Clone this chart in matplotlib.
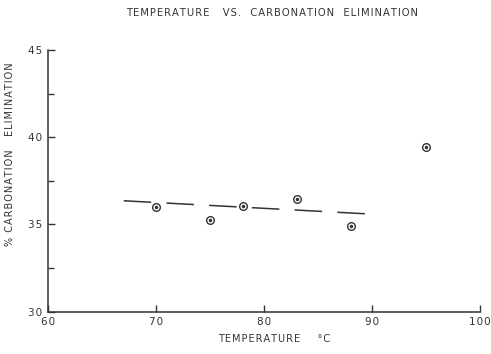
import matplotlib
matplotlib.use("Agg")
import matplotlib.pyplot as plt

temperature = [70, 75, 78, 83, 88, 95]
elimination = [36.0, 35.27, 36.06, 36.45, 34.88, 39.45]
trend_x = [67.0, 89.5]
trend_y = [36.35, 35.6]
x_ticks = [60, 70, 80, 90, 100]
y_ticks = [30, 35, 40, 45]
y_minor = [32.5, 37.5, 42.5]

title_text = "TEMPERATURE   VS.  CARBONATION  ELIMINATION"
xlabel_text = "TEMPERATURE    °C"
ylabel_text = "% CARBONATION   ELIMINATION"

ink = "#333333"
plt.rcParams['font.family'] = ['DejaVu Sans']


def spaced(s):
    return "\u200a".join(s)


fig = plt.figure(figsize=(4.91, 3.54), dpi=100)
ax = fig.add_axes([0.098, 0.12, 0.88, 0.739])

ax.plot(trend_x, trend_y, color=ink, lw=1.1, dashes=(18, 10))
ax.plot(temperature, elimination, linestyle='none', marker='o', ms=5.5,
        mfc='white', mec=ink, mew=1.0)
ax.plot(temperature, elimination, linestyle='none', marker='o', ms=1.5,
        mfc=ink, mec=ink)

ax.set_xlim(60, 100)
ax.set_ylim(30, 45)
ax.set_xticks(x_ticks)
ax.set_yticks(y_ticks)
ax.set_yticks(y_minor, minor=True)
ax.set_xticklabels([spaced(str(v)) for v in x_ticks])
ax.set_yticklabels([spaced(str(v)) for v in y_ticks])

for s in ['top', 'right']:
    ax.spines[s].set_visible(False)
for s in ['left', 'bottom']:
    ax.spines[s].set_color(ink)
    ax.spines[s].set_linewidth(1.1)

ax.tick_params(axis='both', which='major', direction='in', length=5, width=1,
               colors=ink, labelsize=7.5, pad=4)
ax.tick_params(axis='y', which='minor', direction='in', length=4, width=1, colors=ink)

ax.set_xlabel(spaced(xlabel_text), fontsize=7, color=ink)
ax.xaxis.set_label_coords(0.523, -0.085)
ax.set_ylabel(spaced(ylabel_text), fontsize=7, color=ink)
ax.yaxis.set_label_coords(-0.077, 0.6)
fig.text(0.555, 0.963, spaced(title_text),
         ha='center', va='center', fontsize=7.2, color=ink)

fig.savefig("out.png", dpi=100)
